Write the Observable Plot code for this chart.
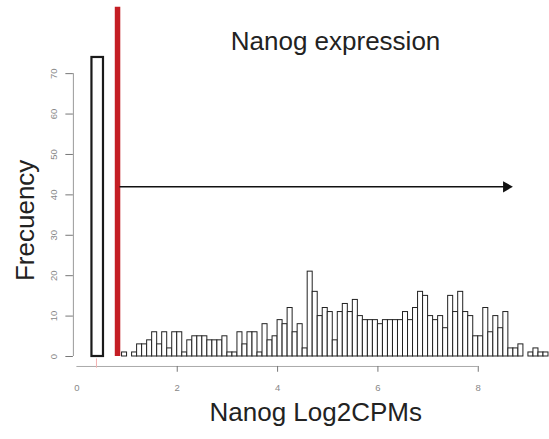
<!DOCTYPE html>
<html><head><meta charset="utf-8">
<script src="https://cdn.jsdelivr.net/npm/d3@7"></script>
<script src="https://cdn.jsdelivr.net/npm/@observablehq/plot@0.6"></script>
<style>body{margin:0;background:#fff} svg{display:block}</style>
</head><body><div id="chart"></div>
<script>
// Histogram counts (bins of width 0.1 starting at 0.9)
const binStart = 0.9;
const binWidth = 0.1;
const counts = [1,0,1,3,3,4,6,3,6,2,6,6,1,4,5,5,5,4,4,4,5,1,1,6,3,6,6,1,8,4,5,9,8,12,6,8,2,21,16,10,12,11,4,11,13,11,14,10,9,9,9,8,9,9,9,9,11,9,12,16,15,10,9,10,7,15,11,16,11,10,5,5,12,6,10,7,11,2,2,3,0,1,2,1,1];
// Tall bar of non-expressing cells
const zeroBar = [{x1: 0.3, x2: 0.53, count: 74}];
// Threshold line and arrow
const threshold = [0.81];
const thresholdTop = 86.4;
const arrowY = 42;
const arrowFrom = 0.86;
const arrowTo = 8.56;
const xTicks = [2, 4, 6, 8];
const xTickLabels = ["0", "2", "4", "6", "8"];
const xLabelPos = [0, 2, 4, 6, 8];
const yTicks = [0, 10, 20, 30, 40, 50, 60, 70];
const title = "Nanog expression";
const xTitle = "Nanog Log2CPMs";
const yTitle = "Frecuency";

const bins = counts.map((c, i) => ({x1: binStart + i * binWidth, x2: binStart + (i + 1) * binWidth, count: c})).filter(d => d.count > 0);

const chart = Plot.plot({
  width: 549, height: 439,
  marginLeft: 76.4, marginRight: 0, marginTop: 0, marginBottom: 83,
  x: {domain: [0, 9.42], axis: null},
  y: {domain: [0, 88.1], axis: null},
  style: {fontFamily: "'Liberation Sans', Arial, sans-serif", background: "#fff", overflow: "visible"},
  marks: [
    // y axis
    Plot.ruleX([-0.07], {y1: 0, y2: 70, stroke: "#999", strokeWidth: 1}),
    Plot.ruleY(yTicks, {y: d => d, x1: -0.22, x2: -0.07, stroke: "#777", strokeWidth: 1}),
    Plot.text(yTicks, {x: -0.46, y: d => d, text: d => String(d), rotate: -90, fontSize: 9.5, fill: "#888"}),
    // x axis
    Plot.ruleY([-2.47], {x1: 0, x2: 8, stroke: "#aaa", strokeWidth: 1}),
    Plot.ruleX(xTicks, {x: d => d, y1: -2.47, y2: -3.9, stroke: "#777", strokeWidth: 1}),
    Plot.ruleX([0.39], {y1: -0.6, y2: -2.9, stroke: "#f2b0b0", strokeWidth: 1}),
    Plot.text(xLabelPos, {x: d => d, y: -7.9, text: (d, i) => xTickLabels[i], fontSize: 9.5, fill: "#888"}),
    // histogram
    Plot.rectY(bins, {x1: "x1", x2: "x2", y: "count", fill: "#fff", stroke: "#222", strokeWidth: 1}),
    Plot.rect(zeroBar, {x1: "x1", x2: "x2", y1: 0, y2: "count", fill: "#fff", stroke: "#1a1a1a", strokeWidth: 2.2}),
    // threshold
    Plot.ruleX(threshold, {x: d => d, y1: 0, y2: thresholdTop, stroke: "#c41e24", strokeWidth: 5.5}),
    // arrow
    Plot.ruleY([arrowY], {x1: arrowFrom, x2: arrowTo, stroke: "#111", strokeWidth: 1.5}),
    Plot.dot([arrowTo], {x: d => d, y: arrowY, symbol: "triangle", rotate: 90, r: 4.2, fill: "#111", stroke: "none"}),
    // titles
    Plot.text([title], {x: 5.155, y: 77.9, text: d => d, fontSize: 26, fill: "#222"}),
    Plot.text([xTitle], {x: 4.76, y: -13.9, text: d => d, fontSize: 26, fill: "#222"}),
    Plot.text([yTitle], {x: -1.02, y: 33.7, text: d => d, fontSize: 26, rotate: -90, fill: "#222"})
  ]
});
document.getElementById("chart").appendChild(chart);
</script>
</body></html>
